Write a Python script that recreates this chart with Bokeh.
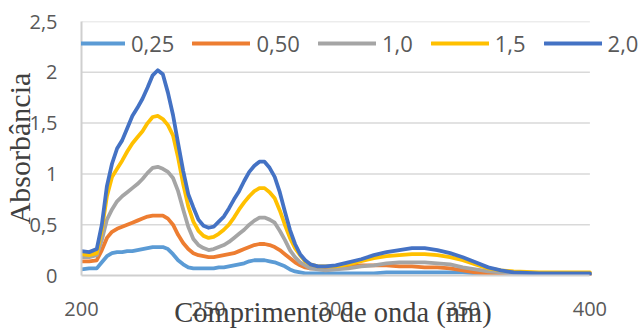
from bokeh.plotting import figure
from bokeh.models import Range1d, Legend, LegendItem, FixedTicker, CustomJSTickFormatter
from bokeh.embed import file_html
from bokeh.resources import INLINE

# UV-Vis spectra, absorbance vs. wavelength (nm)
wavelength = [200, 203, 206, 208, 210, 212, 214, 216, 218, 220, 222, 224, 226, 228,
              230, 232, 234, 236, 238, 240, 242, 244, 246, 248, 250, 252, 254, 256,
              258, 260, 262, 264, 266, 268, 270, 272, 274, 276, 278, 280, 282, 284,
              286, 288, 290, 293, 296, 300, 305, 310, 315, 320, 325, 330, 335, 340,
              345, 350, 355, 360, 365, 370, 380, 390, 400]

abs_025 = [0.06, 0.07, 0.07, 0.13, 0.19, 0.22, 0.23, 0.23, 0.24, 0.24, 0.25, 0.26, 0.27, 0.28,
           0.28, 0.28, 0.26, 0.21, 0.15, 0.11, 0.08, 0.07, 0.07, 0.07, 0.07, 0.07, 0.08, 0.08,
           0.09, 0.10, 0.11, 0.12, 0.14, 0.15, 0.15, 0.15, 0.14, 0.13, 0.11, 0.09, 0.06, 0.04,
           0.03, 0.02, 0.02, 0.02, 0.02, 0.02, 0.02, 0.02, 0.02, 0.03, 0.03, 0.03, 0.03, 0.03,
           0.03, 0.03, 0.02, 0.02, 0.02, 0.01, 0.01, 0.01, 0.01]

abs_050 = [0.14, 0.14, 0.15, 0.25, 0.37, 0.43, 0.46, 0.48, 0.50, 0.52, 0.54, 0.56, 0.58, 0.59,
           0.59, 0.59, 0.56, 0.50, 0.40, 0.32, 0.26, 0.22, 0.20, 0.19, 0.18, 0.18, 0.19, 0.20,
           0.21, 0.22, 0.24, 0.26, 0.28, 0.30, 0.31, 0.31, 0.30, 0.28, 0.25, 0.21, 0.17, 0.13,
           0.10, 0.08, 0.07, 0.07, 0.07, 0.08, 0.09, 0.10, 0.10, 0.10, 0.09, 0.09, 0.08, 0.08,
           0.07, 0.05, 0.03, 0.02, 0.01, 0.01, 0.01, 0.01, 0.01]

abs_10 = [0.18, 0.18, 0.20, 0.35, 0.55, 0.65, 0.73, 0.78, 0.82, 0.86, 0.90, 0.95, 1.01, 1.06,
          1.07, 1.05, 1.02, 0.96, 0.83, 0.65, 0.48, 0.36, 0.30, 0.27, 0.25, 0.26, 0.28, 0.30,
          0.33, 0.37, 0.41, 0.45, 0.50, 0.54, 0.57, 0.57, 0.55, 0.52, 0.44, 0.35, 0.25, 0.18,
          0.13, 0.10, 0.07, 0.06, 0.05, 0.06, 0.07, 0.09, 0.10, 0.12, 0.13, 0.13, 0.13, 0.12,
          0.11, 0.08, 0.06, 0.04, 0.03, 0.02, 0.02, 0.02, 0.02]

abs_15 = [0.21, 0.20, 0.22, 0.45, 0.78, 0.97, 1.05, 1.13, 1.22, 1.30, 1.36, 1.42, 1.50, 1.56,
          1.57, 1.54, 1.48, 1.38, 1.16, 0.90, 0.68, 0.53, 0.44, 0.39, 0.37, 0.38, 0.41, 0.45,
          0.50, 0.57, 0.65, 0.72, 0.78, 0.83, 0.86, 0.86, 0.82, 0.76, 0.64, 0.50, 0.37, 0.27,
          0.20, 0.14, 0.11, 0.09, 0.09, 0.09, 0.11, 0.14, 0.17, 0.19, 0.20, 0.21, 0.21, 0.20,
          0.18, 0.15, 0.11, 0.07, 0.05, 0.04, 0.03, 0.03, 0.03]

abs_20 = [0.24, 0.23, 0.26, 0.50, 0.88, 1.10, 1.25, 1.33, 1.45, 1.57, 1.65, 1.74, 1.85, 1.97,
          2.02, 1.98, 1.80, 1.58, 1.30, 1.03, 0.80, 0.67, 0.55, 0.49, 0.47, 0.48, 0.53, 0.58,
          0.66, 0.75, 0.83, 0.93, 1.02, 1.08, 1.12, 1.12, 1.06, 0.97, 0.82, 0.63, 0.45, 0.31,
          0.21, 0.15, 0.11, 0.09, 0.09, 0.10, 0.13, 0.16, 0.20, 0.23, 0.25, 0.27, 0.27, 0.25,
          0.22, 0.18, 0.13, 0.08, 0.05, 0.03, 0.02, 0.02, 0.02]

series_names = ["0,25", "0,50", "1,0", "1,5", "2,0"]
series_values = [abs_025, abs_050, abs_10, abs_15, abs_20]
series_colors = ["#5B9BD5", "#ED7D31", "#A5A5A5", "#FFC000", "#4472C4"]

x_ticks = [200, 250, 300, 350, 400]
y_ticks = [0, 0.5, 1, 1.5, 2, 2.5]

x_title = "Comprimento de onda (nm)"
y_title = "Absorbância"

TICK_FONT = "Open Sans"
TITLE_FONT = "Liberation Serif"
TEXT_GREY = "#595959"
TITLE_GREY = "#404040"
GRID_GREY = "#D9D9D9"

X_MIN, X_MAX = 200, 400
Y_MIN, Y_MAX = 0, 2.5

# the frame runs to the right edge of the canvas so the wide legend row is not cut;
# the axis line and the gridlines stop at 400 nm
p = figure(width=641, height=331, output_backend="svg", toolbar_location=None,
           x_range=Range1d(X_MIN, 420.3), y_range=Range1d(Y_MIN, Y_MAX),
           min_border_left=76, min_border_right=0, min_border_top=21,
           min_border_bottom=56)
p.outline_line_color = None
p.background_fill_color = "white"
p.border_fill_color = "white"
p.xgrid.grid_line_color = None
p.ygrid.grid_line_color = None

# horizontal gridlines at the y ticks, spanning the wavelength range
grid_y = [t for t in y_ticks if t > Y_MIN]
p.segment(x0=[X_MIN] * len(grid_y), x1=[X_MAX] * len(grid_y), y0=grid_y, y1=grid_y,
          line_color=GRID_GREY, line_width=1.5)

items = []
for name, vals, col in zip(series_names, series_values, series_colors):
    r = p.line(wavelength, vals, line_color=col, line_width=3.8,
               line_join="round", line_cap="round")
    items.append(LegendItem(label=name, renderers=[r]))

# axes
p.xaxis.ticker = FixedTicker(ticks=x_ticks)
p.yaxis.ticker = FixedTicker(ticks=y_ticks)
p.yaxis.formatter = CustomJSTickFormatter(code="return tick.toString().replace('.', ',');")
p.xaxis.bounds = (X_MIN, X_MAX)
p.yaxis.bounds = (Y_MIN, Y_MAX)
for ax in (p.xaxis, p.yaxis):
    ax.major_tick_in = 0
    ax.major_tick_out = 0
    ax.minor_tick_in = 0
    ax.minor_tick_out = 0
    ax.axis_line_color = "#CFCFCF"
    ax.axis_line_width = 2
    ax.major_label_text_font = TICK_FONT
    ax.major_label_text_font_size = "20px"
    ax.major_label_text_color = TEXT_GREY
    ax.axis_label_text_font = TITLE_FONT
    ax.axis_label_text_font_style = "normal"
    ax.axis_label_text_color = TITLE_GREY
p.xaxis.axis_label_text_font_size = "28.5px"
p.yaxis.axis_label_text_font_size = "30px"
p.xaxis.major_label_standoff = 26
p.yaxis.major_label_standoff = 24
# the x title is centred under the 200-400 nm span: trailing no-break spaces
# balance the extra frame width on the right
p.xaxis.axis_label = x_title + "\u00a0" * 8
p.yaxis.axis_label = y_title
p.xaxis.axis_label_standoff = -22
p.yaxis.axis_label_standoff = -10

legend = Legend(items=items, orientation="horizontal", location=(-14, 217),
                glyph_width=58, glyph_height=20, label_height=20,
                label_standoff=6, spacing=18, padding=0, margin=0,
                border_line_color=None, background_fill_alpha=0,
                label_text_font=TICK_FONT, label_text_font_size="22px",
                label_text_color=TEXT_GREY)
p.add_layout(legend)

open("out.html", "w").write(file_html(p, INLINE))
